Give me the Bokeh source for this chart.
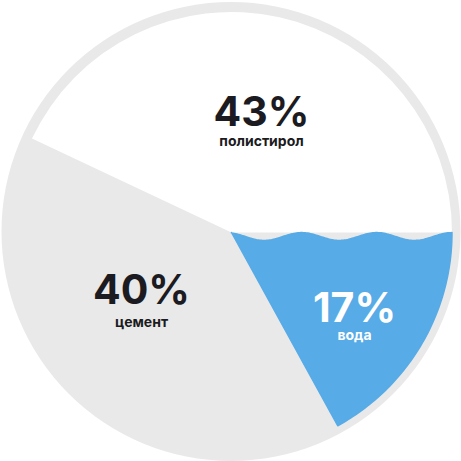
import numpy as np
from bokeh.plotting import figure
from bokeh.models import Range1d, ColumnDataSource
from bokeh.core.properties import value
from bokeh.embed import file_html
from bokeh.resources import INLINE

# ---- data ----
categories = ["полистирол", "цемент", "вода"]
shares = [43, 40, 17]
labels = ["43%", "40%", "17%"]
colors = ["#FFFFFF", "#E9E9E9", "#57ABE6"]
text_colors = ["#1B1B21", "#1B1B21", "#FFFFFF"]

W = H = 461
p = figure(width=W, height=H, output_backend="svg", toolbar_location=None,
           x_range=Range1d(0, W), y_range=Range1d(0, H), min_border=0,
           background_fill_color="#FFFFFF", border_fill_color="#FFFFFF")
p.axis.visible = False
p.grid.visible = False
p.outline_line_color = None

# geometry (pixel-like coords, y up)
cx, cy = 231.0, H - 232.0
R_out, R_in = 229.5, 220.5

# outer ring (same colour as cement sector)
p.circle(x=[230.5], y=[H - 231.0], radius=R_out, fill_color=colors[1], line_color=None)

# angles from data: water sector ends at horizontal (0 rad), polystyrene starts there
fr = np.array(shares, dtype=float) / sum(shares)
ang = fr * 2 * np.pi
poly_start, poly_end = 0.0, ang[0]
water_start, water_end = -ang[2], 0.0

# polystyrene (white) wedge
p.wedge(x=[cx], y=[cy], radius=R_in, start_angle=[poly_start], end_angle=[poly_end],
        fill_color=colors[0], line_color=None)

# water sector with wavy surface
wave_amp, wave_mid = 3.9, cy - 4.0
x_end = cx + np.sqrt(R_in**2 - (wave_mid - cy) ** 2)
period = (x_end - (cx - 5)) / 3.0
xs_w = np.linspace(cx, x_end, 160)
ys_w = wave_mid + wave_amp * np.cos(2 * np.pi * (xs_w - (cx - 5)) / period)
a_right = np.arctan2(ys_w[-1] - cy, xs_w[-1] - cx)
arc_t = np.linspace(a_right, water_start, 80)
xs_a = cx + R_in * np.cos(arc_t)
ys_a = cy + R_in * np.sin(arc_t)
px = np.concatenate([[cx], xs_w, xs_a, [cx]])
py = np.concatenate([[cy], ys_w, ys_a, [cy]])
p.patch(px, py, fill_color=colors[2], line_color=colors[2], line_width=1.5, line_join="round")

# labels
pct_pos = [(261, H - 110), (141, H - 288), (354, H - 306)]
cat_pos = [(261, H - 140), (141, H - 321), (354, H - 334)]
src = ColumnDataSource(dict(
    x=[q[0] for q in pct_pos], y=[q[1] for q in pct_pos], t=labels, c=text_colors))
p.text(x="x", y="y", text="t", text_color="c", source=src,
       text_font=value("Inter"), text_font_style="bold", text_font_size="41px",
       text_align="center", text_baseline="middle")
src2 = ColumnDataSource(dict(
    x=[q[0] for q in cat_pos], y=[q[1] for q in cat_pos], t=categories, c=text_colors))
p.text(x="x", y="y", text="t", text_color="c", source=src2,
       text_font=value("Inter"), text_font_style="bold", text_font_size="14px",
       text_align="center", text_baseline="middle")

open("out.html", "w").write(file_html(p, INLINE))
